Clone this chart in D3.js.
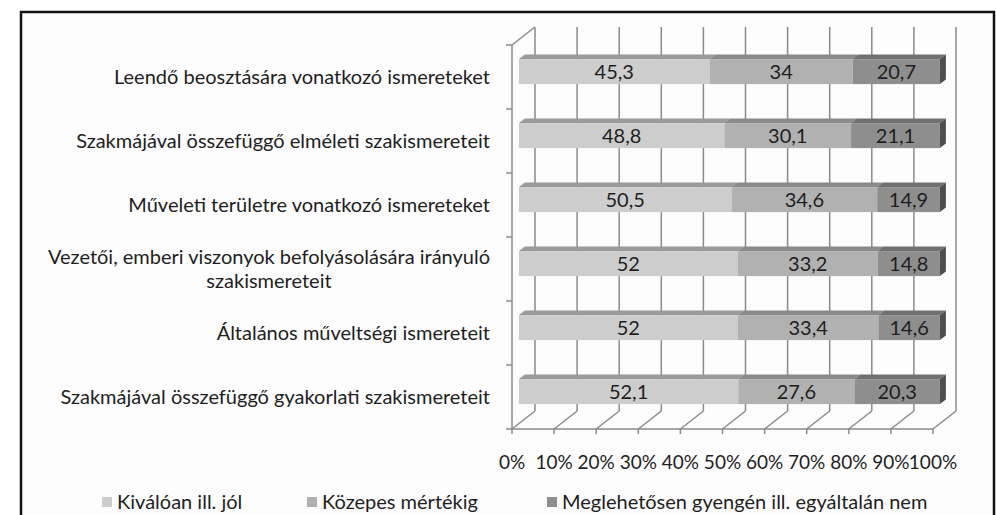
<!DOCTYPE html>
<html>
<head>
<meta charset="utf-8">
<script src="https://cdn.jsdelivr.net/npm/d3@7"></script>
<style>
  body { margin: 0; background: #fff; }
  text { font-family: Lato, "Noto Sans", sans-serif; fill: #1e1e1e; }
</style>
</head>
<body>
<div id="chart"></div>
<script>
// data
const categories = [
    "Leendő beosztására vonatkozó ismereteket",
    "Szakmájával összefüggő elméleti szakismereteit",
    "Műveleti területre vonatkozó ismereteket",
    "Vezetői, emberi viszonyok befolyásolására irányuló|szakismereteit",
    "Általános műveltségi ismereteit",
    "Szakmájával összefüggő gyakorlati szakismereteit"
];
const seriesNames = ["Kiválóan ill. jól", "Közepes mértékig", "Meglehetősen gyengén ill. egyáltalán nem"];
const kivaloan = [45.3, 48.8, 50.5, 52, 52, 52.1];
const kozepes = [34, 30.1, 34.6, 33.2, 33.4, 27.6];
const gyengen = [20.7, 21.1, 14.9, 14.8, 14.6, 20.3];
const ticks = [0, 10, 20, 30, 40, 50, 60, 70, 80, 90, 100];

const frontColors = ["#cdcdcd", "#b1b1b1", "#8e8e8e"];
const topColors = ["#9a9a9a", "#8a8a8a", "#707070"];
const sideColor = "#4e4e4e";
const gridColor = "#8a8a8a";

const width = 996, height = 515;
const svg = d3.select("#chart").append("svg")
    .attr("width", width)
    .attr("height", height);

// frame (open at the bottom, the picture is cut there)
svg.append("rect")
    .attr("x", 21).attr("y", 12)
    .attr("width", 973).attr("height", 510)
    .attr("fill", "#fdfdfd");
svg.append("path")
    .attr("d", "M21,520 L21,12 L994,12 L994,520")
    .attr("fill", "none")
    .attr("stroke", "#111")
    .attr("stroke-width", 2.5);

const x = d3.scaleLinear().domain([0, 100]).range([512, 933]);
const y = d3.scaleBand().domain(categories).range([45, 429]);
const depthX = 23, depthY = -18;   // full depth of the 3d box
const barF0 = 0.3, barF1 = 0.56;   // bar position in depth
const barH = 25;

const g = svg.append("g");

// back wall gridlines
g.selectAll(".grid")
    .data(ticks)
    .enter()
    .append("line")
    .attr("x1", d => x(d) + depthX)
    .attr("x2", d => x(d) + depthX)
    .attr("y1", y.range()[0] + depthY)
    .attr("y2", y.range()[1] + depthY)
    .style("stroke", gridColor)
    .style("stroke-width", 1.5);

// floor diagonals
g.selectAll(".floor")
    .data(ticks)
    .enter()
    .append("line")
    .attr("x1", d => x(d))
    .attr("y1", y.range()[1])
    .attr("x2", d => x(d) + depthX)
    .attr("y2", y.range()[1] + depthY)
    .style("stroke", gridColor)
    .style("stroke-width", 1.5);

// left wall
g.append("line")
    .attr("x1", x(0)).attr("x2", x(0))
    .attr("y1", y.range()[0]).attr("y2", y.range()[1])
    .style("stroke", gridColor).style("stroke-width", 1.5);
g.append("line")
    .attr("x1", x(0)).attr("y1", y.range()[0])
    .attr("x2", x(0) + depthX).attr("y2", y.range()[0] + depthY)
    .style("stroke", gridColor).style("stroke-width", 1.5);

// category ticks
const catTicks = categories.map(c => y(c)).concat([y.range()[1]]);
g.selectAll(".ctick")
    .data(catTicks)
    .enter()
    .append("line")
    .attr("x1", x(0) - 6).attr("x2", x(0))
    .attr("y1", d => d).attr("y2", d => d)
    .style("stroke", gridColor).style("stroke-width", 1.5);

// front axis line + ticks
g.append("line")
    .attr("x1", x(0)).attr("x2", x(100))
    .attr("y1", y.range()[1]).attr("y2", y.range()[1])
    .style("stroke", gridColor).style("stroke-width", 1.5);
g.selectAll(".xtick")
    .data(ticks)
    .enter()
    .append("line")
    .attr("x1", d => x(d)).attr("x2", d => x(d))
    .attr("y1", y.range()[1]).attr("y2", y.range()[1] + 5)
    .style("stroke", gridColor).style("stroke-width", 1.5);

// stacked 3d bars
const series = [kivaloan, kozepes, gyengen];
const rows = categories.map((c, i) => {
    let acc = 0;
    return series.map((s, k) => {
        const seg = { cat: c, k: k, v: s[i], x0: acc, x1: acc + s[i] };
        acc += s[i];
        return seg;
    });
});

const bars = g.selectAll(".bar")
    .data(rows)
    .enter()
    .append("g")
    .attr("class", "bar");

function pt(v, yy, f) {
    return [x(v) + depthX * f, yy + depthY * f];
}

bars.each(function (segs) {
    const sel = d3.select(this);
    const cy = y(segs[0].cat) + y.bandwidth() / 2;
    const top = cy - barH / 2, bot = cy + barH / 2;
    segs.forEach(s => {
        const a = pt(s.x0, top, barF0), b = pt(s.x1, top, barF0);
        const c = pt(s.x1, top, barF1), d = pt(s.x0, top, barF1);
        sel.append("polygon")
            .attr("points", [a, b, c, d].map(p => p.join(",")).join(" "))
            .attr("fill", topColors[s.k]);
        sel.append("rect")
            .attr("x", a[0]).attr("y", a[1])
            .attr("width", b[0] - a[0]).attr("height", barH)
            .attr("fill", frontColors[s.k]);
    });
    const last = segs[segs.length - 1];
    const r1 = pt(last.x1, top, barF0), r2 = pt(last.x1, top, barF1);
    const r3 = pt(last.x1, bot, barF1), r4 = pt(last.x1, bot, barF0);
    sel.append("polygon")
        .attr("points", [r1, r2, r3, r4].map(p => p.join(",")).join(" "))
        .attr("fill", sideColor);
    segs.forEach(s => {
        const a = pt((s.x0 + s.x1) / 2, cy, barF0);
        sel.append("text")
            .attr("x", a[0]).attr("y", a[1])
            .attr("dy", "0.35em")
            .attr("text-anchor", "middle")
            .style("font-size", "20px")
            .text(String(s.v).replace(".", ","));
    });
});

// category labels (multi-line block centred, right edge fixed)
const labelRight = 490;
categories.forEach(c => {
    const lines = c.split("|");
    const cy = y(c) + y.bandwidth() / 2;
    const lh = 24;
    const t = g.append("text")
        .style("font-size", "20px")
        .attr("text-anchor", "middle");
    lines.forEach((ln, i) => {
        t.append("tspan")
            .attr("x", 0)
            .attr("y", cy + (i - (lines.length - 1) / 2) * lh)
            .attr("dy", "0.35em")
            .text(ln);
    });
    const w = t.node().getBBox().width;
    t.selectAll("tspan").attr("x", labelRight - w / 2);
});

// x axis labels
g.selectAll(".xlabel")
    .data(ticks)
    .enter()
    .append("text")
    .attr("x", d => x(d))
    .attr("y", 462)
    .attr("dy", "0.35em")
    .attr("text-anchor", "middle")
    .style("font-size", "19px")
    .text(d => d + "%");

// legend
const legendX = [102, 307, 547];
const legend = g.selectAll(".legend")
    .data(seriesNames)
    .enter()
    .append("g")
    .attr("transform", (d, i) => `translate(${legendX[i]}, 502)`);
legend.append("rect")
    .attr("x", 0).attr("y", -5)
    .attr("width", 10).attr("height", 10)
    .attr("fill", (d, i) => frontColors[i]);
legend.append("text")
    .attr("x", 15)
    .attr("dy", "0.35em")
    .style("font-size", "20px")
    .text(d => d);
</script>
</body>
</html>
